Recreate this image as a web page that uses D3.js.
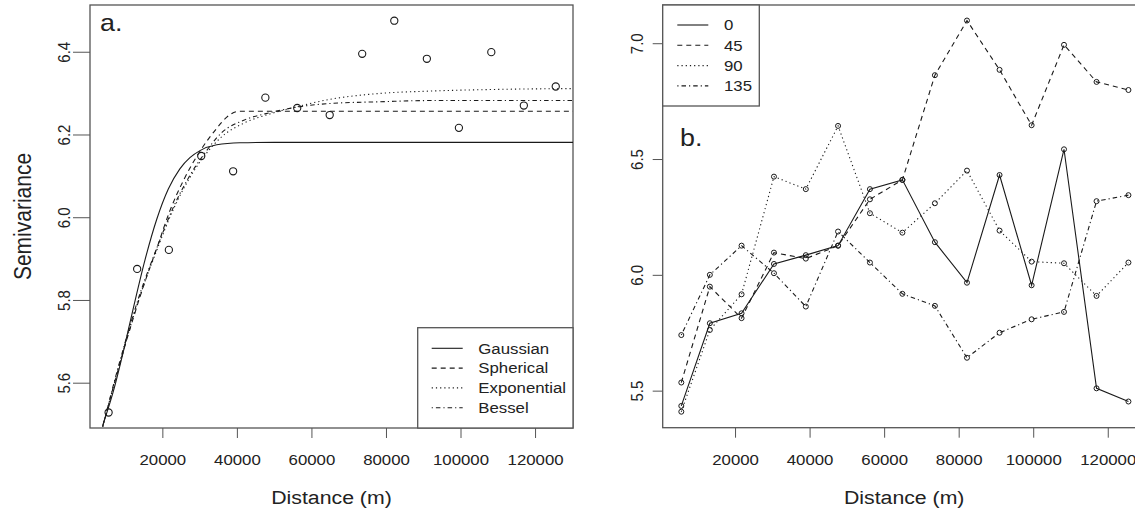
<!DOCTYPE html>
<html>
<head>
<meta charset="UTF-8">
<title>Semivariogram</title>
<script src="https://d3js.org/d3.v7.min.js"></script>
<style>
  body { margin: 0; background: #fff; }
  text { font-family: "Liberation Sans", Arial, sans-serif; fill: #222; }
</style>
</head>
<body>
<svg width="1135" height="514"></svg>
<script>
// lag distances (m), shared by both panels
const lags = [5580, 13240, 21750, 30440, 38990, 47640, 56190, 64900, 73620, 82230, 90970, 99570, 108260, 116990, 125550];

// panel a: empirical semivariance
const semivar = [5.528, 5.875, 5.921, 6.148, 6.111, 6.289, 6.264, 6.247, 6.395, 6.475, 6.383, 6.216, 6.399, 6.270, 6.316];

// panel a: fitted models
const gaussH = [4000, 7000, 9500, 12000, 15350, 18500, 21600, 24700, 27400, 30100, 34600, 40800, 50000, 130180];
const gaussV = [5.497, 5.584, 5.674, 5.772, 5.897, 5.995, 6.068, 6.117, 6.144, 6.161, 6.175, 6.180, 6.181, 6.181];
const spherH = [4000, 10000, 15000, 18500, 22000, 26000, 30500, 34600, 37300, 40500, 130180];
const spherV = [5.494, 5.690, 5.835, 5.925, 6.015, 6.095, 6.165, 6.215, 6.242, 6.256, 6.256];
const expoH = [4000, 9000, 14000, 18500, 23000, 27000, 31000, 36000, 42000, 49000, 56000, 65000, 78000, 92000, 110000, 130180];
const expoV = [5.494, 5.660, 5.810, 5.920, 6.020, 6.090, 6.145, 6.195, 6.228, 6.250, 6.267, 6.285, 6.299, 6.305, 6.309, 6.311];
const besselH = [4000, 9000, 14000, 18500, 23000, 27000, 31000, 36000, 42000, 49000, 56000, 65000, 78000, 92000, 130180];
const besselV = [5.494, 5.665, 5.815, 5.925, 6.025, 6.095, 6.150, 6.205, 6.235, 6.253, 6.266, 6.275, 6.279, 6.282, 6.282];
const modelNames = ['Gaussian', 'Spherical', 'Exponential', 'Bessel'];

// panel b: directional semivariance
const dirNames = ['0', '45', '90', '135'];
const dir0 = [5.434, 5.791, 5.834, 6.047, 6.085, 6.126, 6.370, 6.410, 6.141, 5.966, 6.431, 5.955, 6.542, 5.510, 5.453];
const dir45 = [5.535, 5.949, 5.813, 6.096, 6.070, 6.126, 6.326, 6.410, 6.862, 7.098, 6.885, 6.646, 6.993, 6.833, 6.798];
const dir90 = [5.409, 5.762, 5.916, 6.424, 6.370, 6.643, 6.266, 6.182, 6.309, 6.450, 6.191, 6.057, 6.050, 5.909, 6.053];
const dir135 = [5.740, 6.000, 6.126, 6.007, 5.863, 6.187, 6.053, 5.918, 5.866, 5.642, 5.750, 5.808, 5.840, 6.318, 6.344];

const xTicks = [20000, 40000, 60000, 80000, 100000, 120000];
const yTicksA = [5.6, 5.8, 6.0, 6.2, 6.4];
const yTicksB = [5.5, 6.0, 6.5, 7.0];

// line styles: solid, dashed, dotted, dot-dash
const dashes = [null, '5,4', '1.2,3', '1.2,3,4.5,3'];
const SX = 1.12;   // the picture is a little wider than tall
const ink = '#1a1a1a';
const frame = '#555';

const svg = d3.select('svg');

function stext(g, x, y, str, size, anchor, rot) {
  return g.append('text')
    .attr('transform', `translate(${x},${y}) scale(${SX},1)` + (rot ? ' rotate(-90)' : ''))
    .attr('text-anchor', anchor)
    .attr('font-size', size + 'px')
    .text(str);
}

function panel(id, left, right, top, bottom, yDomain, yTicks, yTickLen) {
  const x = d3.scaleLinear().domain([590, 130180]).range([left, right]);
  const y = d3.scaleLinear().domain(yDomain).range([bottom, top]);

  svg.append('clipPath').attr('id', id)
    .append('rect').attr('x', left).attr('y', top)
    .attr('width', right - left).attr('height', bottom - top);

  // x axis
  const gx = svg.append('g')
    .attr('transform', `translate(0,${bottom})`)
    .call(d3.axisBottom(x).tickValues(xTicks).tickSize(10).tickFormat(d3.format('d')));
  gx.select('.domain').remove();
  gx.selectAll('.tick line').attr('stroke', frame);
  gx.selectAll('.tick text')
    .attr('y', 0).attr('dy', 0)
    .attr('transform', `translate(0,37) scale(${SX},1)`)
    .attr('font-size', '15px').attr('font-family', null).attr('fill', '#222');

  // y axis
  const gy = svg.append('g')
    .attr('transform', `translate(${left},0)`)
    .call(d3.axisLeft(y).tickValues(yTicks).tickSize(yTickLen).tickFormat(d3.format('.1f')));
  gy.select('.domain').remove();
  gy.selectAll('.tick line').attr('stroke', frame);
  gy.selectAll('.tick text')
    .attr('x', 0).attr('dy', 0)
    .attr('text-anchor', 'middle')
    .attr('transform', `translate(-20,0) scale(${SX},1) rotate(-90)`)
    .attr('font-size', '15px').attr('font-family', null).attr('fill', '#222');

  // frame
  svg.append('rect')
    .attr('x', left).attr('y', top)
    .attr('width', right - left).attr('height', bottom - top)
    .attr('fill', 'none').attr('stroke', frame).attr('stroke-width', 1.3);

  stext(svg, (left + right) / 2, 504, 'Distance (m)', 19, 'middle');

  const plot = svg.append('g').attr('clip-path', `url(#${id})`);
  return { x, y, plot };
}

// ---------- panel a ----------
const A = panel('clipA', 90, 573, 5, 428, [5.4905, 6.513], yTicksA, 17);

const modelH = [gaussH, spherH, expoH, besselH];
const modelV = [gaussV, spherV, expoV, besselV];
const lineA = d3.line().curve(d3.curveMonotoneX);
modelH.forEach((hs, i) => {
  A.plot.append('path')
    .attr('d', lineA(hs.map((h, j) => [A.x(h), A.y(modelV[i][j])])))
    .attr('fill', 'none').attr('stroke', ink).attr('stroke-width', 1.1)
    .attr('stroke-dasharray', dashes[i]);
});

A.plot.selectAll('circle.obs')
  .data(lags)
  .enter().append('circle')
  .attr('cx', d => A.x(d))
  .attr('cy', (d, i) => A.y(semivar[i]))
  .attr('r', 3.6)
  .attr('fill', 'none').attr('stroke', ink).attr('stroke-width', 1.1);

stext(svg, 100, 31, 'a.', 24, 'start');
stext(svg, 31, 216.5, 'Semivariance', 21, 'middle', true);

// legend a
svg.append('rect')
  .attr('x', 417.7).attr('y', 327.7).attr('width', 155.3).attr('height', 100.3)
  .attr('fill', '#fff').attr('stroke', frame).attr('stroke-width', 1.3);
modelNames.forEach((name, i) => {
  const yy = 348.3 + i * 19.8;
  svg.append('line')
    .attr('x1', 431.7).attr('x2', 462.7).attr('y1', yy).attr('y2', yy)
    .attr('stroke', ink).attr('stroke-width', 1.1).attr('stroke-dasharray', dashes[i]);
  stext(svg, 478.3, yy + 5.3, name, 15, 'start');
});

// ---------- panel b ----------
const B = panel('clipB', 662.7, 1145.7, 5, 427.7, [5.34, 7.165], yTicksB, 10);

const dirSeries = [dir0, dir45, dir90, dir135];
const lineB = d3.line();
dirSeries.forEach((vals, i) => {
  B.plot.append('path')
    .attr('d', lineB(lags.map((h, j) => [B.x(h), B.y(vals[j])])))
    .attr('fill', 'none').attr('stroke', ink).attr('stroke-width', 1.1)
    .attr('stroke-dasharray', dashes[i]);
  B.plot.selectAll(null)
    .data(vals)
    .enter().append('circle')
    .attr('cx', (d, j) => B.x(lags[j]))
    .attr('cy', d => B.y(d))
    .attr('r', 2.5)
    .attr('fill', 'none').attr('stroke', ink).attr('stroke-width', 1);
});

stext(svg, 680, 145.7, 'b.', 24, 'start');

// legend b
svg.append('rect')
  .attr('x', 662.7).attr('y', 5).attr('width', 96.6).attr('height', 101)
  .attr('fill', '#fff').attr('stroke', frame).attr('stroke-width', 1.3);
dirNames.forEach((name, i) => {
  const yy = 25 + i * 20.3;
  svg.append('line')
    .attr('x1', 677.3).attr('x2', 708.3).attr('y1', yy).attr('y2', yy)
    .attr('stroke', ink).attr('stroke-width', 1.1).attr('stroke-dasharray', dashes[i]);
  stext(svg, 724, yy + 5.3, name, 15, 'start');
});
</script>
</body>
</html>
